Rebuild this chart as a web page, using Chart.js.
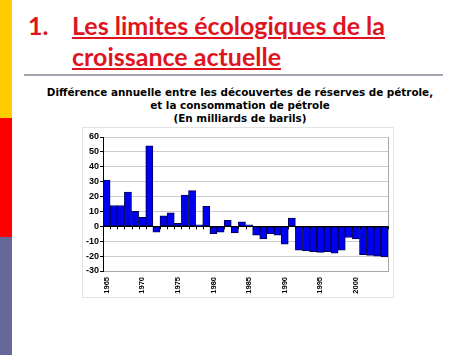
<!DOCTYPE html>
<html>
<head>
<meta charset="utf-8">
<script src="https://cdn.jsdelivr.net/npm/chart.js@4"></script>
<style>
  body { margin: 0; width: 474px; height: 355px; background: #fff; position: relative; overflow: hidden; }
  .strip { position: absolute; left: 0; width: 12px; }
  .title { position: absolute; font-family: Lato, sans-serif; font-weight: bold; font-size: 25px; color: #e0141e; white-space: nowrap; line-height: 30px; }
  .title span { text-decoration: underline; text-decoration-thickness: 2px; text-underline-offset: 2px; }
  #rule { position: absolute; left: 24px; top: 74px; width: 419px; height: 2px; background: #a4a4b0; }
  #sub { position: absolute; left: 0; top: 86px; width: 480px; text-align: center; font-family: "DejaVu Sans", sans-serif; font-weight: bold; font-size: 10.4px; line-height: 13px; color: #000; }
  #box { position: absolute; left: 83px; top: 128px; width: 310px; height: 178px; }
  #frame { position: absolute; left: 82px; top: 127px; width: 310px; height: 169px; border: 1px solid #e2e2e2; }
</style>
</head>
<body>
<div class="strip" style="top:0;height:118px;background:#ffcc00"></div>
<div class="strip" style="top:118px;height:119px;background:#ff0000"></div>
<div class="strip" style="top:237px;height:118px;background:#66669a"></div>

<div class="title" style="left:28px;top:10px">1.</div>
<div class="title" style="left:72px;top:10px"><span>Les limites écologiques de la</span></div>
<div class="title" style="left:72px;top:41px"><span>croissance actuelle</span></div>
<div id="rule"></div>

<div id="sub">Différence annuelle entre les découvertes de réserves de pétrole,<br>et la consommation de pétrole<br>(En milliards de barils)</div>

<div id="frame"></div>
<div id="box"><canvas id="myChart"></canvas></div>

<script>
var Years = ['1965','1966','1967','1968','1969','1970','1971','1972','1973','1974',
             '1975','1976','1977','1978','1979','1980','1981','1982','1983','1984',
             '1985','1986','1987','1988','1989','1990','1991','1992','1993','1994',
             '1995','1996','1997','1998','1999','2000','2001','2002','2003','2004'];
var Difference = [31, 14, 14, 23, 10, 6, 54, -4, 7, 9,
                  2, 21, 24, 1, 13.5, -5, -4, 4, -4.5, 3,
                  1, -6, -8.5, -5, -6, -12, 5.5, -16, -16.5, -17,
                  -17.5, -17, -18, -16, -7.5, -8.5, -19, -19.5, -20, -20.5];
var YTicks = [60, 50, 40, 30, 20, 10, 0, -10, -20, -30];

// small tick marks on the zero line between bars
var zeroTicks = {
    id: 'zeroTicks',
    afterDatasetsDraw: function (chart) {
        var x = chart.scales.x, y = chart.scales.y, ctx = chart.ctx;
        var y0 = y.getPixelForValue(0);
        var half = (x.getPixelForValue(1) - x.getPixelForValue(0)) / 2;
        ctx.save();
        ctx.strokeStyle = '#000';
        ctx.lineWidth = 1;
        ctx.beginPath();
        for (var i = 0; i <= Years.length; i++) {
            var px = Math.round(x.getPixelForValue(i) - half) + 0.5;
            ctx.moveTo(px, y0);
            ctx.lineTo(px, y0 + 3);
        }
        ctx.moveTo(x.left, Math.round(y0) + 0.5);
        ctx.lineTo(x.right, Math.round(y0) + 0.5);
        ctx.stroke();
        ctx.restore();
    }
};

var ctx = document.getElementById('myChart').getContext('2d');
var myChart = new Chart(ctx, {
    type: 'bar',
    data: {
        labels: Years,
        datasets: [{
            data: Difference,
            backgroundColor: '#0000f0',
            borderColor: '#000050',
            borderWidth: 1,
            borderSkipped: false,
            barPercentage: 1,
            categoryPercentage: 1
        }]
    },
    options: {
        responsive: true,
        maintainAspectRatio: false,
        animation: false,
        layout: { padding: { top: 9, right: 5, left: 0, bottom: 0 } },
        plugins: { legend: { display: false }, tooltip: { enabled: false } },
        scales: {
            x: {
                grid: { display: false },
                border: { color: '#a8a8a8' },
                ticks: {
                    autoSkip: false,
                    minRotation: 90,
                    maxRotation: 90,
                    padding: -2,
                    color: '#000',
                    font: { family: 'Liberation Sans', size: 7.5, weight: 'bold' },
                    callback: function (v, i) { return Years[i] % 5 == 0 ? Years[i] : ''; }
                },
                afterFit: function (s) { s.height = 35; }
            },
            y: {
                min: -30,
                max: 60,
                afterBuildTicks: function (s) { s.ticks = YTicks.map(v => ({ value: v })); },
                grid: { color: '#cccccc', tickColor: '#000', tickLength: 3 },
                border: { color: '#000' },
                ticks: {
                    padding: 1,
                    color: '#000',
                    font: { family: 'Liberation Sans', size: 9, weight: 'bold' }
                },
                afterFit: function (s) { s.width = 20; }
            },
            y2: {
                position: 'right',
                min: -30,
                max: 60,
                grid: { display: false },
                ticks: { display: false },
                border: { color: '#a8a8a8' },
                afterFit: function (s) { s.width = 0; }
            }
        }
    },
    plugins: [zeroTicks]
});
</script>
</body>
</html>
